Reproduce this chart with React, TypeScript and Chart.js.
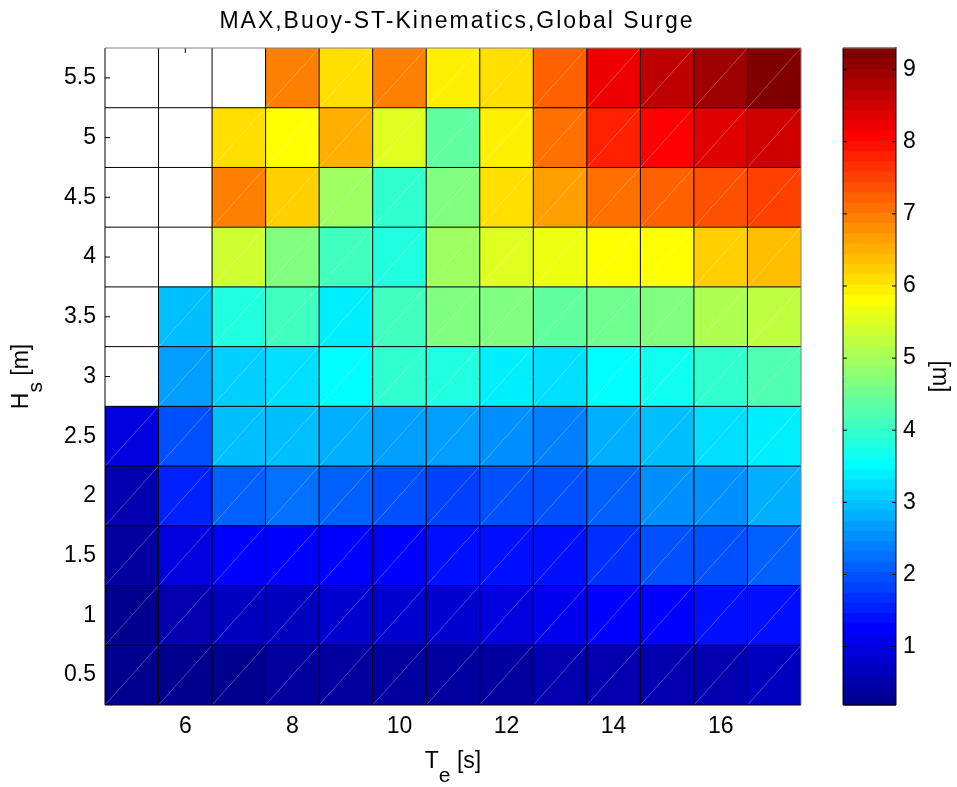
import React, { useEffect, useRef } from 'react';
import { Chart, registerables } from 'chart.js';

Chart.register(...registerables);

// ---- data ----
const TITLE = 'MAX,Buoy-ST-Kinematics,Global Surge';
const TE = [5, 6, 7, 8, 9, 10, 11, 12, 13, 14, 15, 16, 17];
const HS = [0.5, 1, 1.5, 2, 2.5, 3, 3.5, 4, 4.5, 5, 5.5];

const SURGE_HS_0_5 = [0.22, 0.28, 0.31, 0.36, 0.4, 0.45, 0.45, 0.47, 0.5, 0.52, 0.58, 0.6, 0.66];
const SURGE_HS_1_0 = [0.3, 0.55, 0.62, 0.69, 0.76, 0.83, 0.8, 0.97, 1.11, 1.26, 1.26, 1.33, 1.4];
const SURGE_HS_1_5 = [0.4, 0.97, 1.26, 1.3, 1.26, 1.26, 1.4, 1.4, 1.4, 1.68, 1.9, 1.97, 2.11];
const SURGE_HS_2_0 = [0.55, 1.54, 2.11, 2.25, 2.18, 1.97, 1.83, 1.97, 1.97, 2.18, 2.47, 2.6, 2.82];
const SURGE_HS_2_5 = [0.97, 1.97, 2.96, 2.96, 2.89, 2.68, 2.68, 2.47, 2.4, 2.82, 2.96, 3.18, 3.39];
const SURGE_HS_3_0 = [null, 2.68, 3.1, 3.25, 3.53, 3.96, 3.82, 3.39, 3.25, 3.53, 3.68, 4.03, 4.25];
const SURGE_HS_3_5 = [null, 2.96, 3.82, 4.1, 3.39, 4.1, 4.67, 4.67, 4.39, 4.53, 4.67, 5.1, 5.24];
const SURGE_HS_4_0 = [null, null, 5.38, 4.67, 4.1, 3.75, 4.95, 5.53, 5.67, 5.81, 5.81, 6.24, 6.38];
const SURGE_HS_4_5 = [null, null, 6.95, 6.24, 4.95, 3.96, 4.67, 6.09, 6.67, 7.09, 7.24, 7.38, 7.52];
const SURGE_HS_5_0 = [null, null, 6.09, 5.81, 6.59, 5.53, 4.46, 5.95, 7.09, 7.8, 8.09, 8.37, 8.52];
const SURGE_HS_5_5 = [null, null, null, 6.95, 6.09, 6.95, 5.95, 6.09, 7.24, 8.23, 8.66, 8.94, 9.23];

const SURGE_ROWS = [
  SURGE_HS_0_5, SURGE_HS_1_0, SURGE_HS_1_5, SURGE_HS_2_0, SURGE_HS_2_5, SURGE_HS_3_0,
  SURGE_HS_3_5, SURGE_HS_4_0, SURGE_HS_4_5, SURGE_HS_5_0, SURGE_HS_5_5,
];

const X_TICKS = [6, 8, 10, 12, 14, 16];
const Y_TICKS = [0.5, 1, 1.5, 2, 2.5, 3, 3.5, 4, 4.5, 5, 5.5];
const CBAR_TICKS = [1, 2, 3, 4, 5, 6, 7, 8, 9];
const CMIN = 0.19;
const CMAX = 9.3;
const NLEVELS = 64;

const FONT = '"Liberation Sans", Arial, Helvetica, sans-serif';
const TICK_SIZE = 23;
const TITLE_SIZE = 23;

// ---- MATLAB jet(64) ----
function uPart(k: number) {
  if (k <= 16) return k / 16;
  if (k <= 31) return 1;
  return (48 - k) / 16;
}
function jet(i: number) {
  const n = i + 1;
  const r = n >= 25 ? uPart(n - 24) : 0;
  const g = n >= 9 && n <= 55 ? uPart(n - 8) : 0;
  const b = n <= 39 ? uPart(n + 8) : 0;
  return `rgb(${Math.round(r * 255)},${Math.round(g * 255)},${Math.round(b * 255)})`;
}
function colorFor(v: number | null | undefined) {
  if (v == null) return 'rgba(0,0,0,0)';
  let idx = Math.floor(((v - CMIN) / (CMAX - CMIN)) * NLEVELS);
  idx = Math.max(0, Math.min(NLEVELS - 1, idx));
  return jet(idx);
}

const decor = {
  id: 'heatmapDecor',
  beforeDatasetsDraw(chart: any) {
    const { ctx, chartArea: a, scales } = chart;
    const xs = scales.x, ys = scales.y;
    ctx.save();
    ctx.strokeStyle = '#000';
    ctx.lineWidth = 1;
    const tl = 5;
    ctx.beginPath();
    Y_TICKS.forEach((v) => {
      const y = ys.getPixelForValue(v);
      ctx.moveTo(a.left, y); ctx.lineTo(a.left + tl, y);
      ctx.moveTo(a.right, y); ctx.lineTo(a.right - tl, y);
    });
    X_TICKS.forEach((v) => {
      const x = xs.getPixelForValue(v);
      ctx.moveTo(x, a.top); ctx.lineTo(x, a.top + tl);
      ctx.moveTo(x, a.bottom); ctx.lineTo(x, a.bottom - tl);
    });
    ctx.stroke();
    ctx.restore();
  },
  afterDatasetsDraw(chart: any) {
    const { ctx, chartArea: a, scales } = chart;
    const xs = scales.x, ys = scales.y, cs = scales.c;
    ctx.save();
    // faint facet diagonals
    ctx.strokeStyle = 'rgba(255,255,255,0.35)';
    ctx.lineWidth = 0.8;
    ctx.beginPath();
    SURGE_ROWS.forEach((row, i) => {
      row.forEach((v, j) => {
        if (v == null) return;
        const x0 = xs.getPixelForValue(TE[j] - 0.5);
        const x1 = xs.getPixelForValue(TE[j] + 0.5);
        const y0 = ys.getPixelForValue(HS[i] - 0.25);
        const y1 = ys.getPixelForValue(HS[i] + 0.25);
        ctx.moveTo(x0, y0); ctx.lineTo(x1, y1);
      });
    });
    ctx.stroke();
    // cell edges
    ctx.strokeStyle = '#000';
    ctx.lineWidth = 1;
    ctx.beginPath();
    for (let j = 1; j < TE.length; j++) {
      const x = xs.getPixelForValue(TE[j] - 0.5);
      ctx.moveTo(x, a.top); ctx.lineTo(x, a.bottom);
    }
    for (let i = 1; i < HS.length; i++) {
      const y = ys.getPixelForValue(HS[i] - 0.25);
      ctx.moveTo(a.left, y); ctx.lineTo(a.right, y);
    }
    ctx.stroke();
    // axes box
    ctx.strokeStyle = '#000';
    ctx.beginPath();
    ctx.moveTo(a.left, a.top); ctx.lineTo(a.left, a.bottom); ctx.lineTo(a.right, a.bottom);
    ctx.stroke();
    ctx.strokeStyle = '#808080';
    ctx.beginPath();
    ctx.moveTo(a.left, a.top); ctx.lineTo(a.right, a.top); ctx.lineTo(a.right, a.bottom);
    ctx.stroke();

    // colorbar
    const cbL = 843, cbR = 896;
    const step = (CMAX - CMIN) / NLEVELS;
    for (let k = 0; k < NLEVELS; k++) {
      const yA = cs.getPixelForValue(CMIN + k * step);
      const yB = cs.getPixelForValue(CMIN + (k + 1) * step);
      ctx.fillStyle = jet(k);
      ctx.fillRect(cbL, yB - 0.5, cbR - cbL, yA - yB + 1);
    }
    const cTop = cs.getPixelForValue(CMAX), cBot = cs.getPixelForValue(CMIN);
    ctx.strokeStyle = '#000';
    ctx.lineWidth = 1;
    ctx.beginPath();
    ctx.moveTo(cbL, cTop); ctx.lineTo(cbL, cBot); ctx.lineTo(cbR, cBot); ctx.lineTo(cbR, cTop - 1);
    CBAR_TICKS.forEach((v) => {
      const y = cs.getPixelForValue(v);
      ctx.moveTo(cbL, y); ctx.lineTo(cbL + 4, y);
      ctx.moveTo(cbR, y); ctx.lineTo(cbR - 4, y);
    });
    ctx.stroke();
    ctx.strokeStyle = '#808080';
    ctx.beginPath();
    ctx.moveTo(cbL, cTop); ctx.lineTo(cbR, cTop);
    ctx.stroke();
    ctx.restore();
  },
  afterDraw(chart: any) {
    const { ctx, chartArea: a } = chart;
    const cx = (a.left + a.right) / 2;
    const cy = (a.top + a.bottom) / 2;
    ctx.save();
    ctx.fillStyle = '#000';
    // title
    ctx.font = `${TITLE_SIZE}px ${FONT}`;
    ctx.textAlign = 'center';
    ctx.textBaseline = 'alphabetic';
    try { (ctx as any).letterSpacing = '2px'; } catch (e) { /* ignore */ }
    ctx.fillText(TITLE, cx + 4, 28);
    try { (ctx as any).letterSpacing = '0px'; } catch (e) { /* ignore */ }

    // axis label with subscript
    const drawSubLabel = (main: string, sub: string, rest: string, x: number, y: number, rot: number) => {
      const big = `${TICK_SIZE}px ${FONT}`;
      const small = `${Math.round(TICK_SIZE * 0.9)}px ${FONT}`;
      ctx.font = big;
      const wMain = ctx.measureText(main).width;
      const wRest = ctx.measureText(rest).width;
      ctx.font = small;
      const wSub = ctx.measureText(sub).width;
      const total = wMain + wSub + wRest;
      ctx.save();
      ctx.translate(x, y);
      ctx.rotate(rot);
      ctx.textAlign = 'left';
      ctx.textBaseline = 'alphabetic';
      let px = -total / 2;
      ctx.font = big;
      ctx.fillText(main, px, 0);
      px += wMain;
      ctx.font = small;
      ctx.fillText(sub, px, TICK_SIZE * 0.62);
      px += wSub;
      ctx.font = big;
      ctx.fillText(rest, px, 0);
      ctx.restore();
    };
    drawSubLabel('T', 'e', ' [s]', cx, 768, 0);
    drawSubLabel('H', 's', ' [m]', 28, cy, -Math.PI / 2);
    ctx.restore();
  },
};

export default function App() {
  const ref = useRef<HTMLCanvasElement | null>(null);
  useEffect(() => {
    document.body.style.margin = '0';
    const canvas = ref.current;
    if (!canvas) return;
    const datasets = SURGE_ROWS.map((row, i) => ({
      label: `Hs ${HS[i]}`,
      data: TE.map((t, j) => ({
        x: t,
        y: row[j] == null ? null : [HS[i] - 0.25, HS[i] + 0.25],
        v: row[j],
      })),
      backgroundColor: (c: any) => colorFor(c.raw ? c.raw.v : null),
      borderWidth: 0,
      borderSkipped: false,
      grouped: false,
      barPercentage: 1,
      categoryPercentage: 1,
    }));
    const tickFont = { family: FONT, size: TICK_SIZE };
    const chart = new Chart(canvas, {
      type: 'bar',
      data: { datasets: datasets as any },
      plugins: [decor],
      options: {
        responsive: false,
        animation: false,
        events: [],
        layout: { padding: { top: 48, left: 0, right: 0, bottom: 0 } },
        plugins: { legend: { display: false }, tooltip: { enabled: false }, title: { display: false } },
        scales: {
          x: {
            type: 'linear',
            min: 4.5,
            max: 17.5,
            offset: false,
            grid: { display: false, drawTicks: false, offset: false },
            border: { display: false },
            ticks: { font: tickFont, color: '#000', padding: 8, maxRotation: 0, callback: (v: any) => String(v) },
            afterBuildTicks: (s: any) => { s.ticks = X_TICKS.map((value) => ({ value })); },
            afterFit: (s: any) => { s.height = 82; s.paddingLeft = 0; s.paddingRight = 0; },
          },
          y: {
            type: 'linear',
            position: 'left',
            min: 0.25,
            max: 5.75,
            grid: { display: false, drawTicks: false },
            border: { display: false },
            ticks: { font: tickFont, color: '#000', padding: 9, callback: (v: any) => String(v) },
            afterBuildTicks: (s: any) => { s.ticks = Y_TICKS.map((value) => ({ value })); },
            afterFit: (s: any) => { s.width = 105; s.paddingTop = 0; s.paddingBottom = 0; },
          },
          c: {
            type: 'linear',
            position: 'right',
            min: CMIN,
            max: CMAX,
            grid: { display: false, drawTicks: false },
            border: { display: false },
            ticks: { font: tickFont, color: '#000', padding: 102, callback: (v: any) => String(v) },
            title: { display: true, text: '[m]', font: tickFont, color: '#000', padding: { top: 4, bottom: 0 } },
            afterBuildTicks: (s: any) => { s.ticks = CBAR_TICKS.map((value) => ({ value })); },
            afterFit: (s: any) => { s.width = 156; s.paddingTop = 0; s.paddingBottom = 0; },
          },
        },
      } as any,
    });
    return () => chart.destroy();
  }, []);
  return (
    <div style={{ position: 'fixed', left: 0, top: 0, width: 957, height: 787, background: '#fff' }}>
      <canvas ref={ref} width={957} height={787} style={{ display: 'block' }} />
    </div>
  );
}
